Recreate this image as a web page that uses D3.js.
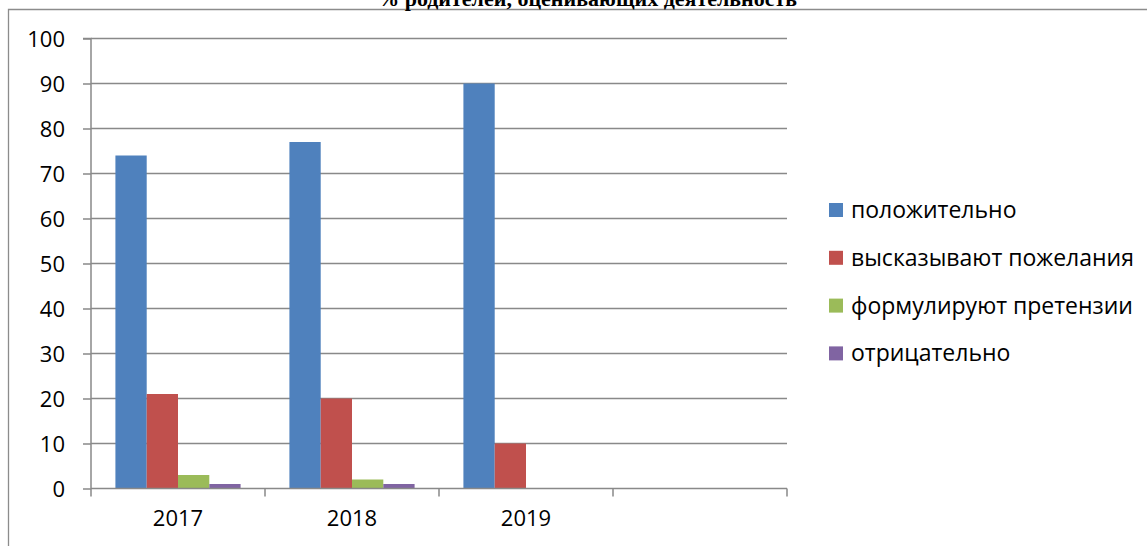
<!DOCTYPE html>
<html>
<head>
<meta charset="utf-8">
<script src="https://cdn.jsdelivr.net/npm/d3@7"></script>
<style>
  html, body { margin: 0; padding: 0; background: #fff; }
  svg { display: block; }
</style>
</head>
<body>
<svg id="chart" width="1147" height="546"></svg>
<script>
const title = "% родителей, оценивающих деятельность";
const categories = ["2017", "2018", "2019", ""];
const seriesNames = ["положительно", "высказывают пожелания", "формулируют претензии", "отрицательно"];
const positive = [74, 77, 90, null];
const wishes = [21, 20, 10, null];
const claims = [3, 2, 0, null];
const negative = [1, 1, 0, null];
const yTicks = [0, 10, 20, 30, 40, 50, 60, 70, 80, 90, 100];
const colors = ["#4F81BD", "#C0504D", "#9BBB59", "#8064A2"];

const seriesValues = [positive, wishes, claims, negative];

const svg = d3.select("#chart");
const font = "'Open Sans', 'Noto Sans', sans-serif";

// frame (chart area border, cut at right)
svg.append("path")
  .attr("d", "M8.5,546 V9.5 H1147")
  .attr("fill", "none").attr("stroke", "#8c8c8c").attr("stroke-width", 1.3);

// title (partly cut off at the top, as in the source)
svg.append("text")
  .attr("x", 587).attr("y", 6)
  .attr("text-anchor", "middle")
  .attr("font-family", "'Liberation Serif', 'DejaVu Serif', serif")
  .attr("font-weight", "bold")
  .attr("font-size", 22)
  .text(title);

const plot = { left: 91, right: 787, top: 38.5, bottom: 488.5 };

const x0 = d3.scaleBand().domain(categories).range([plot.left, plot.right]).paddingInner(0).paddingOuter(0);
const x1 = d3.scaleBand().domain(d3.range(seriesNames.length)).range([0, x0.bandwidth()]).paddingInner(0).paddingOuter(0.78);
const y = d3.scaleLinear().domain([0, 100]).range([plot.bottom, plot.top]);

// gridlines
svg.append("g").selectAll("line").data(yTicks.filter(d => d > 0)).join("line")
  .attr("x1", plot.left).attr("x2", plot.right)
  .attr("y1", d => y(d)).attr("y2", d => y(d))
  .attr("stroke", "#898989").attr("stroke-width", 1.5);

// bars
const groups = svg.append("g").selectAll("g").data(categories).join("g")
  .attr("transform", c => `translate(${x0(c)},0)`);
groups.selectAll("rect")
  .data((c, ci) => seriesValues.map((vals, si) => ({ si, v: vals[ci] })).filter(d => d.v != null && d.v > 0))
  .join("rect")
  .attr("x", d => x1(d.si))
  .attr("width", x1.bandwidth())
  .attr("y", d => y(d.v))
  .attr("height", d => y(0) - y(d.v))
  .attr("fill", d => colors[d.si]);

// y axis
const yAxis = d3.axisLeft(y).tickValues(yTicks).tickSize(8).tickPadding(18).tickFormat(d3.format("d"));
const gy = svg.append("g").attr("transform", `translate(${plot.left},0)`).call(yAxis);
gy.select(".domain").attr("stroke", "#898989").attr("stroke-width", 1.5).attr("d", `M-8,${plot.top}H0V${plot.bottom}`);
gy.selectAll(".tick line").attr("stroke", "#898989").attr("stroke-width", 1.5);
gy.selectAll(".tick text").attr("font-family", font).attr("font-size", 22).attr("fill", "#000").attr("dy", "0.36em");

// x axis
const xAxis = d3.axisBottom(x0).tickSize(0).tickPadding(22);
const gx = svg.append("g").attr("transform", `translate(0,${plot.bottom})`).call(xAxis);
gx.select(".domain").attr("stroke", "#898989").attr("stroke-width", 1.5).attr("d", `M${plot.left},0H${plot.right}`);
gx.selectAll(".tick text").attr("font-family", font).attr("font-size", 22).attr("fill", "#000");
// category boundary ticks
const boundaries = categories.map(c => x0(c)).concat([plot.right]);
gx.append("g").selectAll("line").data(boundaries).join("line")
  .attr("x1", d => d).attr("x2", d => d).attr("y1", 0).attr("y2", 8)
  .attr("stroke", "#898989").attr("stroke-width", 1.5);

// legend
const legend = svg.append("g").selectAll("g").data(seriesNames).join("g")
  .attr("transform", (d, i) => `translate(829,${218 + i * 47.8})`);
legend.append("rect").attr("x", 0).attr("y", -15).attr("width", 14).attr("height", 14)
  .attr("fill", (d, i) => colors[i]);
legend.append("text").attr("x", 22).attr("y", 0)
  .attr("font-family", font).attr("font-size", 23).attr("fill", "#000")
  .text(d => d);
</script>
</body>
</html>
